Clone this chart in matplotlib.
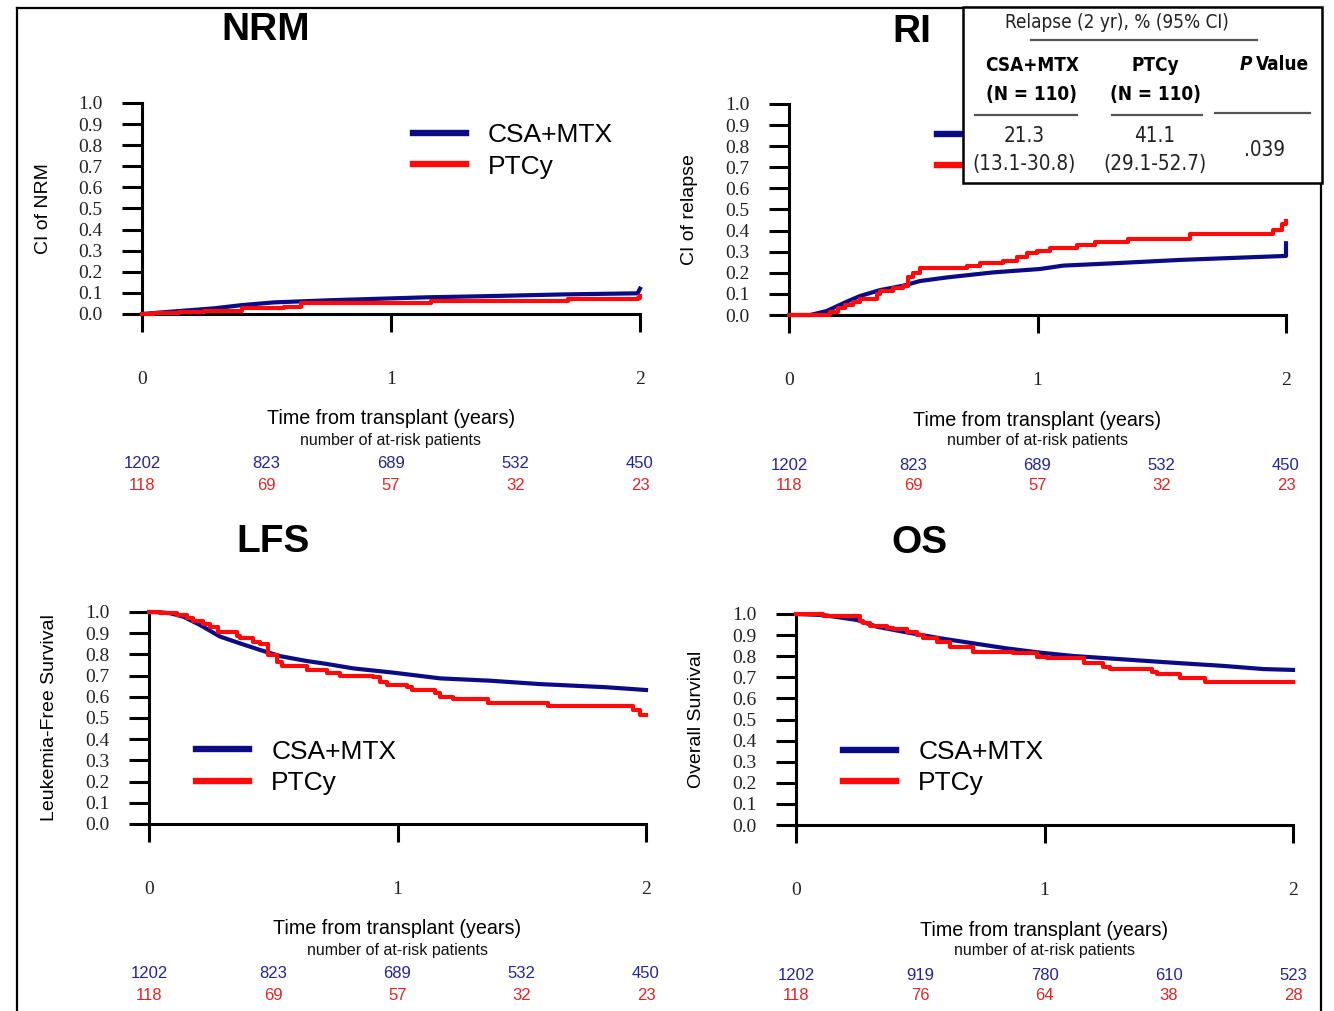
import numpy as np
import matplotlib
matplotlib.use("Agg")
import matplotlib.pyplot as plt
from matplotlib.patches import Rectangle
from matplotlib.lines import Line2D
from matplotlib import font_manager

# ---------------------------------------------------------------- data
groups = ["CSA+MTX", "PTCy"]

# NRM cumulative incidence
nrm_csa_t = [0, 0.106, 0.29, 0.40, 0.53, 0.75, 1.0, 1.14, 1.40, 1.70, 1.99, 2.0]
nrm_csa_v = [0, 0.010, 0.027, 0.042, 0.055, 0.065, 0.074, 0.079, 0.085, 0.093, 0.098, 0.12]
nrm_ptcy_t = [0, 0.05, 0.15, 0.25, 0.40, 0.57, 0.64, 1.16, 1.71, 1.99, 2.0]
nrm_ptcy_v = [0, 0.004, 0.008, 0.013, 0.027, 0.035, 0.050, 0.063, 0.070, 0.075, 0.083]

# relapse incidence
ri_csa_t = [0, 0.085, 0.152, 0.232, 0.286, 0.366, 0.46, 0.527, 0.635, 0.822, 1.01,
            1.103, 1.304, 1.573, 1.842, 2.0, 2.0]
ri_csa_v = [0, 0, 0.019, 0.063, 0.090, 0.118, 0.139, 0.161, 0.178, 0.202, 0.218,
            0.234, 0.245, 0.261, 0.273, 0.280, 0.340]
ri_ptcy_t = [0, 0.165, 0.198, 0.225, 0.259, 0.286, 0.353, 0.366, 0.42, 0.46, 0.48, 0.50,
             0.527, 0.715, 0.769, 0.862, 0.916, 0.957, 0.997, 1.05, 1.158, 1.231,
             1.365, 1.614, 1.949, 1.983, 2.0]
ri_ptcy_v = [0, 0.016, 0.032, 0.046, 0.063, 0.076, 0.098, 0.115, 0.126, 0.137, 0.178, 0.197,
             0.221, 0.232, 0.245, 0.257, 0.273, 0.292, 0.305, 0.316, 0.330, 0.345,
             0.360, 0.382, 0.403, 0.431, 0.447]

# leukemia-free survival
lfs_csa_t = [0, 0.04, 0.085, 0.138, 0.205, 0.286, 0.366, 0.447, 0.527, 0.634, 0.715,
             0.822, 0.983, 1.171, 1.372, 1.573, 1.842, 2.0]
lfs_csa_v = [1.0, 0.999, 0.994, 0.978, 0.939, 0.884, 0.852, 0.821, 0.792, 0.769, 0.755,
             0.734, 0.714, 0.687, 0.676, 0.660, 0.645, 0.632]
lfs_ptcy_t = [0, 0.044, 0.111, 0.152, 0.178, 0.219, 0.245, 0.279, 0.353, 0.366, 0.42,
              0.447, 0.48, 0.514, 0.534, 0.634, 0.715, 0.769, 0.903, 0.929, 0.956,
              1.037, 1.057, 1.151, 1.171, 1.225, 1.365, 1.607, 1.949, 1.976, 2.0]
lfs_ptcy_v = [1.0, 0.994, 0.986, 0.970, 0.958, 0.943, 0.928, 0.904, 0.888, 0.876, 0.860,
              0.848, 0.797, 0.766, 0.745, 0.726, 0.714, 0.700, 0.692, 0.672, 0.656,
              0.645, 0.632, 0.616, 0.598, 0.588, 0.572, 0.557, 0.538, 0.514, 0.514]

# overall survival
os_csa_t = [0, 0.11, 0.244, 0.325, 0.445, 0.58, 0.714, 0.848, 0.982, 1.116, 1.317,
            1.518, 1.72, 1.881, 2.0]
os_csa_v = [1.0, 0.995, 0.972, 0.940, 0.913, 0.885, 0.861, 0.837, 0.817, 0.801, 0.785,
            0.769, 0.754, 0.739, 0.735]
os_ptcy_t = [0, 0.11, 0.259, 0.271, 0.298, 0.365, 0.392, 0.445, 0.485, 0.512, 0.566,
             0.62, 0.714, 0.875, 0.969, 1.009, 1.157, 1.237, 1.264, 1.432, 1.452,
             1.546, 1.646, 2.0]
os_ptcy_v = [1.0, 0.992, 0.968, 0.959, 0.943, 0.932, 0.927, 0.916, 0.900, 0.885, 0.869,
             0.845, 0.821, 0.814, 0.798, 0.790, 0.769, 0.750, 0.738, 0.727, 0.716,
             0.695, 0.679, 0.679]

# number at risk
risk_times = [0, 0.5, 1, 1.5, 2]
risk_csa = [1202, 823, 689, 532, 450]
risk_ptcy = [118, 69, 57, 32, 23]
risk_os_csa = [1202, 919, 780, 610, 523]
risk_os_ptcy = [118, 76, 64, 38, 28]

# 2-year relapse summary
relapse_n = [110, 110]
relapse_pct = ["21.3", "41.1"]
relapse_ci = ["13.1-30.8", "29.1-52.7"]
relapse_p = ".039"

y_ticks = [i / 10 for i in range(11)]
x_ticks = [0, 1, 2]

# ---------------------------------------------------------------- style
BLUE = "#0b0b86"
RED = "#ff0a0a"
RISK_BLUE = "#24249a"
RISK_RED = "#e42424"
SANS = ["Liberation Sans", "DejaVu Sans"]
SERIF = ["Liberation Serif", "DejaVu Serif"]

# a condensed sans for the summary box, if one is installed
_condensed = [f for f in font_manager.fontManager.ttflist
              if ("Narrow" in f.name or "Condensed" in f.name
                  or str(f.stretch) in ("condensed", "semi-condensed", "extra-condensed"))]
_condensed.sort(key=lambda f: (0 if "Liberation" in f.name else 1 if "DejaVu Sans" == f.name else 2))
if _condensed:
    NARROW = dict(fontfamily=_condensed[0].name, fontstretch=_condensed[0].stretch)
else:
    NARROW = dict(fontfamily=SANS)
NARROW_SCALE = 0.80

W, H = 1334, 1011
fig = plt.figure(figsize=(W / 100, H / 100), dpi=100)
fig.patch.set_facecolor("white")


def px_axes(left, right, bottom, top):
    return fig.add_axes([left / W, 1 - bottom / H, (right - left) / W, (bottom - top) / H])


def fx(x):
    return x / W


def fy(y):
    return 1 - y / H


# the RI legend sits under the summary box, so only its line keys show
panels = [
    dict(box=(142, 640, 314, 103), title="NRM", title_xy=(266, 28), ylabel="CI of NRM",
         csa=(nrm_csa_t, nrm_csa_v), ptcy=(nrm_ptcy_t, nrm_ptcy_v),
         risk=(risk_csa, risk_ptcy), leg=(0.544, 0.773), leg_labels=groups),
    dict(box=(789, 1286, 315, 104), title="RI", title_xy=(912, 30), ylabel="CI of relapse",
         csa=(ri_csa_t, ri_csa_v), ptcy=(ri_ptcy_t, ri_ptcy_v),
         risk=(risk_csa, risk_ptcy), leg=(0.298, 0.773), leg_labels=["", ""]),
    dict(box=(149, 646, 824, 612), title="LFS", title_xy=(273, 540),
         ylabel="Leukemia-Free Survival",
         csa=(lfs_csa_t, lfs_csa_v), ptcy=(lfs_ptcy_t, lfs_ptcy_v),
         risk=(risk_csa, risk_ptcy), leg=(0.0946, 0.267), leg_labels=groups),
    dict(box=(796, 1293, 825, 614), title="OS", title_xy=(919, 541), ylabel="Overall Survival",
         csa=(os_csa_t, os_csa_v), ptcy=(os_ptcy_t, os_ptcy_v),
         risk=(risk_os_csa, risk_os_ptcy), leg=(0.0946, 0.272), leg_labels=groups),
]

for p in panels:
    ax = px_axes(*p["box"])
    width_px = p["box"][1] - p["box"][0]
    ax.set_xlim(0, 2)
    ax.set_ylim(0, 1)
    for s in ("top", "right"):
        ax.spines[s].set_visible(False)
    for s in ("left", "bottom"):
        ax.spines[s].set_linewidth(2.2)
    ax.set_xticks(x_ticks)
    ax.set_xticklabels([str(v) for v in x_ticks], fontfamily=SERIF, fontsize=14, color="#222")
    ax.set_yticks(y_ticks)
    ax.set_yticklabels([f"{v:.1f}" for v in y_ticks], fontfamily=SERIF, fontsize=14,
                       color="#222")
    ax.tick_params(axis="y", length=14.4, width=2.2, pad=14)
    ax.tick_params(axis="x", length=13, width=2.2, pad=28)

    ax.plot(*p["csa"], color=BLUE, lw=3.0, clip_on=False, zorder=3)
    ax.plot(*p["ptcy"], color=RED, lw=3.0, drawstyle="steps-post", clip_on=False, zorder=3)

    ax.text(-99 / width_px, 0.5, p["ylabel"], transform=ax.transAxes, rotation=90,
            ha="center", va="center", fontfamily=SANS, fontsize=14)

    handles = [Line2D([], [], color=BLUE, lw=4.6), Line2D([], [], color=RED, lw=4.6)]
    ax.legend(handles, p["leg_labels"], loc="center left", bbox_to_anchor=p["leg"],
              frameon=False, prop=dict(family=SANS, size=19), handlelength=2.0,
              handletextpad=0.85, labelspacing=0.28, borderpad=0, borderaxespad=0)

    ax.annotate("Time from transplant (years)", xy=(1, 0), xycoords=("data", "axes fraction"),
                xytext=(0, -105), textcoords="offset pixels", ha="center", va="center",
                fontfamily=SANS, fontsize=14.2)
    ax.annotate("number of at-risk patients", xy=(1, 0), xycoords=("data", "axes fraction"),
                xytext=(0, -126), textcoords="offset pixels", ha="center", va="center",
                fontfamily=SANS, fontsize=11.5, color="#111")
    for t, nc, npt in zip(risk_times, *p["risk"]):
        ax.annotate(str(nc), xy=(t, 0), xycoords=("data", "axes fraction"),
                    xytext=(0, -150), textcoords="offset pixels", ha="center", va="center",
                    fontfamily=SANS, fontsize=12, color=RISK_BLUE, annotation_clip=False)
        ax.annotate(str(npt), xy=(t, 0), xycoords=("data", "axes fraction"),
                    xytext=(0, -171), textcoords="offset pixels", ha="center", va="center",
                    fontfamily=SANS, fontsize=12, color=RISK_RED, annotation_clip=False)

    fig.text(fx(p["title_xy"][0]), fy(p["title_xy"][1] + 2), p["title"], ha="center",
             va="center", fontfamily=SANS, fontsize=28, fontweight="bold")

# outer frame
frame_kw = dict(color="black", lw=1.6, transform=fig.transFigure)
fig.add_artist(Line2D([fx(17), fx(1321)], [fy(8), fy(8)], **frame_kw))
fig.add_artist(Line2D([fx(17), fx(17)], [fy(8), fy(1011)], **frame_kw))
fig.add_artist(Line2D([fx(1321), fx(1321)], [fy(8), fy(1011)], **frame_kw))

# relapse summary table
fig.add_artist(Rectangle((fx(963), fy(183)), fx(1322) - fx(963), fy(7) - fy(183),
                         transform=fig.transFigure, facecolor="white", edgecolor="black",
                         lw=1.8, zorder=5))

ts = NARROW_SCALE
tkw = dict(ha="center", va="center", multialignment="center", zorder=6, **NARROW)
fig.text(fx(1117), fy(23), "Relapse (2 yr), % (95% CI)", fontsize=17 * ts, color="#222", **tkw)
for xc, name, n in zip([1032, 1155], groups, relapse_n):
    fig.text(fx(xc), fy(80), f"{name}\n(N = {n})", fontsize=17 * ts, fontweight="bold",
             linespacing=1.7, **tkw)
fig.text(fx(1252), fy(64), "P", fontsize=17 * ts, fontweight="bold", fontstyle="italic",
         ha="right", va="center", zorder=6, **NARROW)
fig.text(fx(1256), fy(64), "Value", fontsize=17 * ts, fontweight="bold",
         ha="left", va="center", zorder=6, **NARROW)
for xc, pct, ci in zip([1024, 1155], relapse_pct, relapse_ci):
    fig.text(fx(xc), fy(150), f"{pct}\n({ci})", fontsize=18.5 * ts, color="#222",
             linespacing=1.47, **tkw)
fig.text(fx(1265), fy(150), relapse_p, fontsize=18.5 * ts, color="#222", **tkw)

rule_kw = dict(color="#555555", lw=1.6, transform=fig.transFigure, zorder=6)
fig.add_artist(Line2D([fx(1031), fx(1257)], [fy(40), fy(40)], **rule_kw))
fig.add_artist(Line2D([fx(975), fx(1077)], [fy(115), fy(115)], **rule_kw))
fig.add_artist(Line2D([fx(1112), fx(1202)], [fy(115), fy(115)], **rule_kw))
fig.add_artist(Line2D([fx(1215), fx(1310)], [fy(113), fy(113)], **rule_kw))

fig.savefig("out.png", dpi=100, facecolor="white")
